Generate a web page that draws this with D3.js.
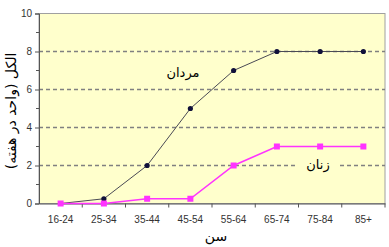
<!DOCTYPE html>
<html lang="fa">
  <head>
    <meta charset="UTF-8" />
    <title>Alcohol by age</title>
    <script src="https://d3js.org/d3.v7.min.js"></script>
    <style>
      body { margin: 0; background: #fff; }
      .tick text { font-family: 'Liberation Sans', Arial, sans-serif; font-size: 10px; fill: #333; }
      .fa { font-family: 'DejaVu Sans', sans-serif; fill: #000; }
    </style>
  </head>
  <body>
    <div id="chart"></div>
    <script>
      const ageGroups = ['16-24', '25-34', '35-44', '45-54', '55-64', '65-74', '75-84', '85+'];
      const men = [0, 0.25, 2, 5, 7, 8, 8, 8];
      const women = [0, 0, 0.25, 0.25, 2, 3, 3, 3];
      const yTicks = [0, 2, 4, 6, 8, 10];
      const menLabel = 'مردان';
      const womenLabel = 'زنان';
      const yTitle = 'الکل (واحد در هفته)';
      const xTitle = 'سن';

      const width = 389;
      const height = 247;
      const margin = { top: 13.5, right: 4, bottom: 43.5, left: 39 };

      const svg = d3
        .select('#chart')
        .append('svg')
        .attr('width', width)
        .attr('height', height);

      const x = d3
        .scaleBand()
        .domain(ageGroups)
        .range([margin.left, width - margin.right]);

      const y = d3
        .scaleLinear()
        .domain([0, 10])
        .range([height - margin.bottom, margin.top]);

      // plot background
      svg
        .append('rect')
        .attr('x', margin.left)
        .attr('y', margin.top)
        .attr('width', width - margin.left - margin.right)
        .attr('height', height - margin.top - margin.bottom)
        .attr('fill', '#ffffcc')
        .attr('stroke', '#a0a0a0')
        .attr('stroke-width', 1);

      // grid lines
      svg
        .append('g')
        .selectAll('line')
        .data(yTicks.filter((d) => d > 0 && d < 10))
        .enter()
        .append('line')
        .attr('x1', margin.left)
        .attr('x2', width - margin.right)
        .attr('y1', (d) => y(d))
        .attr('y2', (d) => y(d))
        .attr('stroke', '#808080')
        .attr('stroke-width', 1.5)
        .attr('stroke-dasharray', '4,3');

      // y axis with minor ticks
      const yAxis = svg
        .append('g')
        .attr('transform', `translate(${margin.left},0)`)
        .call(d3.axisLeft(y).tickValues(yTicks).tickSize(4).tickPadding(3).tickFormat(d3.format('d')));
      yAxis
        .selectAll('.minor')
        .data([1, 3, 5, 7, 9])
        .enter()
        .append('line')
        .attr('class', 'minor')
        .attr('x1', -3)
        .attr('x2', 0)
        .attr('y1', (d) => y(d))
        .attr('y2', (d) => y(d))
        .attr('stroke', '#555');
      yAxis.select('.domain').attr('stroke', '#555');
      yAxis.selectAll('.tick line').attr('stroke', '#555');

      // x axis, ticks between categories
      const xAxis = svg
        .append('g')
        .attr('transform', `translate(0,${y(0)})`)
        .call(d3.axisBottom(x).tickSize(0).tickPadding(12));
      xAxis.select('.domain').attr('stroke', '#555');
      xAxis
        .selectAll('.sep')
        .data(ageGroups.slice(1).concat(['end']))
        .enter()
        .append('line')
        .attr('class', 'sep')
        .attr('x1', (d) => (d === 'end' ? x.range()[1] : x(d)))
        .attr('x2', (d) => (d === 'end' ? x.range()[1] : x(d)))
        .attr('y1', 0)
        .attr('y2', 4)
        .attr('stroke', '#555');

      const cx = (i) => x(ageGroups[i]) + x.bandwidth() / 2;
      const line = d3
        .line()
        .x((d, i) => cx(i))
        .y((d) => y(d));

      // men
      svg
        .append('path')
        .datum(men)
        .attr('d', line)
        .attr('fill', 'none')
        .attr('stroke', '#4a4a55')
        .attr('stroke-width', 1);
      svg
        .append('g')
        .selectAll('circle')
        .data(men)
        .enter()
        .append('circle')
        .attr('cx', (d, i) => cx(i))
        .attr('cy', (d) => y(d))
        .attr('r', 2.6)
        .attr('fill', '#10103a');

      // women
      svg
        .append('path')
        .datum(women)
        .attr('d', line)
        .attr('fill', 'none')
        .attr('stroke', '#ff33ff')
        .attr('stroke-width', 1.5);
      svg
        .append('g')
        .selectAll('rect')
        .data(women)
        .enter()
        .append('rect')
        .attr('x', (d, i) => cx(i) - 3)
        .attr('y', (d) => y(d) - 3)
        .attr('width', 6)
        .attr('height', 6)
        .attr('fill', '#ff33ff');

      // series labels
      svg
        .append('text')
        .attr('class', 'fa')
        .attr('x', 183)
        .attr('y', 77)
        .attr('text-anchor', 'middle')
        .attr('font-size', 13)
        .text(menLabel);

      svg
        .append('rect')
        .attr('x', 298)
        .attr('y', 156)
        .attr('width', 40)
        .attr('height', 18)
        .attr('fill', '#ffffcc');
      svg
        .append('text')
        .attr('class', 'fa')
        .attr('x', 318)
        .attr('y', 169)
        .attr('text-anchor', 'middle')
        .attr('font-size', 13)
        .text(womenLabel);

      // axis titles
      svg
        .append('text')
        .attr('class', 'fa')
        .attr('transform', 'translate(16,111) rotate(-90)')
        .attr('text-anchor', 'middle')
        .attr('font-size', 14)
        .text(yTitle);

      svg
        .append('text')
        .attr('class', 'fa')
        .attr('x', 216)
        .attr('y', 241)
        .attr('text-anchor', 'middle')
        .attr('font-size', 14)
        .text(xTitle);
    </script>
  </body>
</html>
